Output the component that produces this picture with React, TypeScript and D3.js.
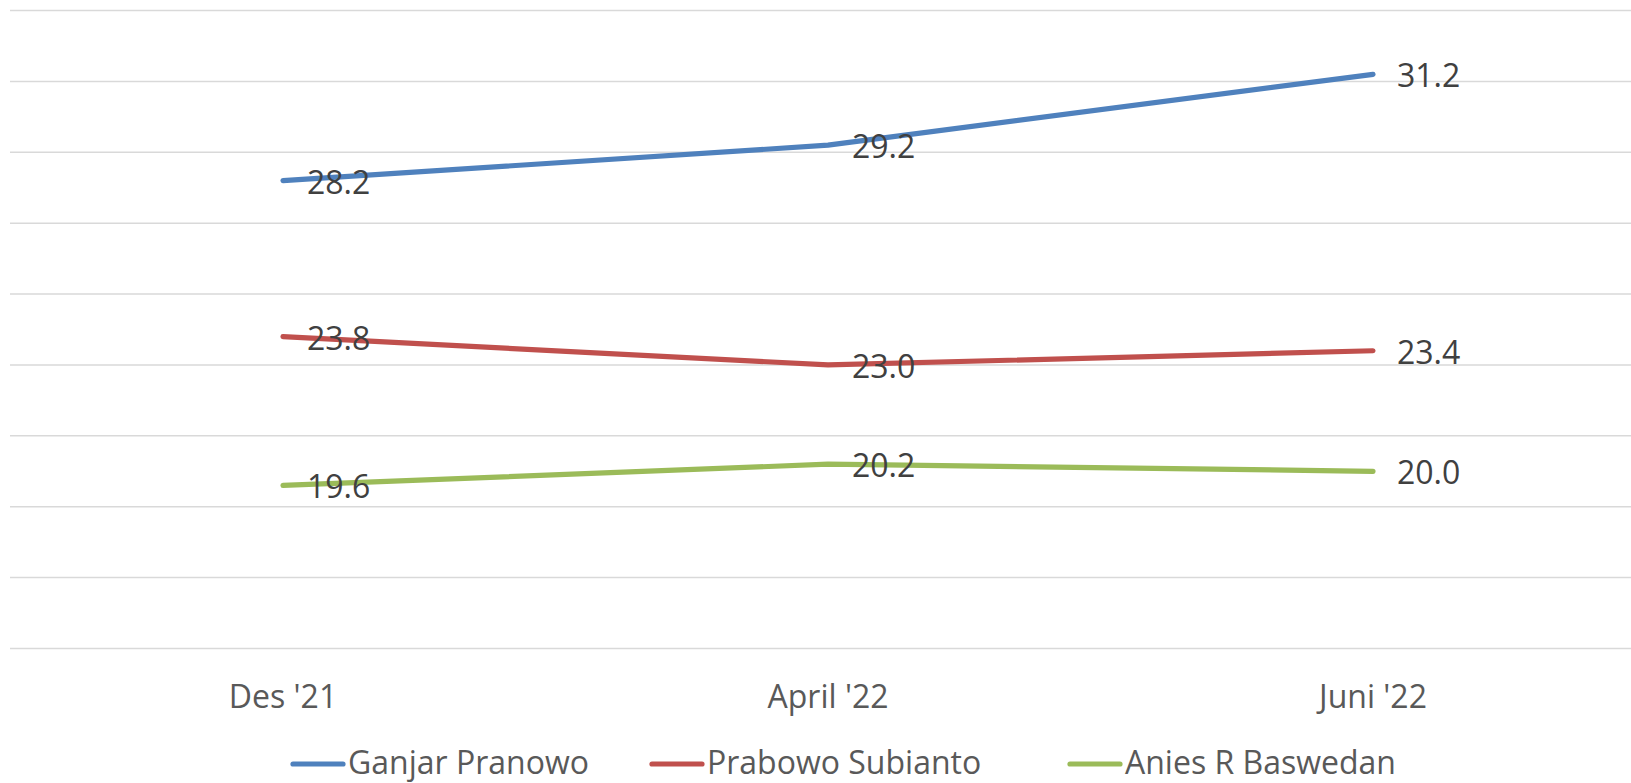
import React from "react";
import * as d3 from "d3";

const categories = ["Des '21", "April '22", "Juni '22"];
const seriesNames = ["Ganjar Pranowo", "Prabowo Subianto", "Anies R Baswedan"];
const ganjar = [28.2, 29.2, 31.2];
const prabowo = [23.8, 23.0, 23.4];
const anies = [19.6, 20.2, 20.0];
const yTicks = [15, 17, 19, 21, 23, 25, 27, 29, 31, 33];
const colors = ["#4F81BD", "#C0504D", "#9BBB59"];

const W = 1631;
const H = 783;
const FONT = "'Open Sans', 'Noto Sans', sans-serif";

export default function App() {
  const series = [ganjar, prabowo, anies];
  const x = d3.scaleBand<string>().domain(categories).range([10.5, 10.5 + 545 * 3]);
  const cx = (c: string) => (x(c) as number) + x.bandwidth() / 2;
  const y = d3.scaleLinear().domain([15, 33]).range([648.5, 10.5]);
  const line = d3
    .line<number>()
    .x((_, i) => cx(categories[i]))
    .y((d) => y(d));
  const legendX = [291, 650, 1068];

  return (
    <svg
      width={W}
      height={H}
      style={{ position: "absolute", left: 0, top: 0, display: "block", background: "#fff" }}
    >
      <rect x={0} y={0} width={W} height={H} fill="#fff" />
      {yTicks.map((t) => (
        <line key={t} x1={10} x2={W} y1={y(t)} y2={y(t)} stroke="#D9D9D9" strokeWidth={1.5} />
      ))}
      {series.map((s, i) => (
        <path
          key={i}
          d={line(s) || ""}
          fill="none"
          stroke={colors[i]}
          strokeWidth={5.2}
          strokeLinecap="round"
          strokeLinejoin="round"
        />
      ))}
      {series.map((s, i) =>
        s.map((v, j) => (
          <text
            key={`${i}-${j}`}
            x={cx(categories[j]) + 24}
            y={y(v) + 13}
            fontFamily={FONT}
            fontSize={32}
            fill="#404040"
          >
            {v.toFixed(1)}
          </text>
        ))
      )}
      {categories.map((c) => (
        <text
          key={c}
          x={cx(c)}
          y={708}
          textAnchor="middle"
          fontFamily={FONT}
          fontSize={32}
          fill="#595959"
        >
          {c}
        </text>
      ))}
      {seriesNames.map((n, i) => (
        <g key={n} transform={`translate(${legendX[i]},0)`}>
          <line x1={2} x2={52} y1={764} y2={764} stroke={colors[i]} strokeWidth={5.2} strokeLinecap="round" />
          <text x={57} y={774} fontFamily={FONT} fontSize={32} fill="#595959">
            {n}
          </text>
        </g>
      ))}
    </svg>
  );
}
